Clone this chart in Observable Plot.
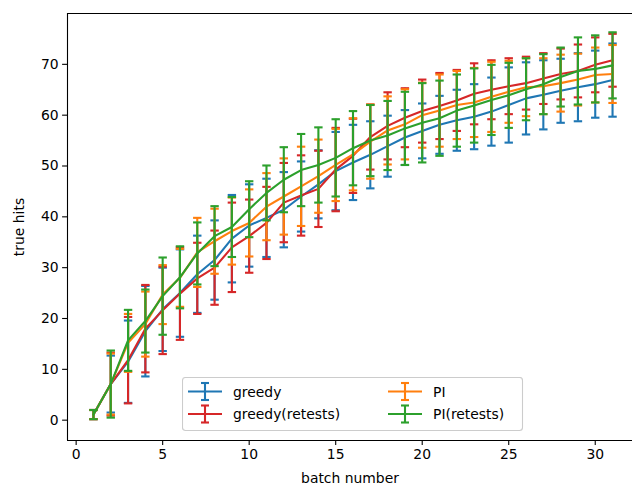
<!DOCTYPE html>
<html>
<head>
<meta charset="utf-8">
<script src="https://cdn.jsdelivr.net/npm/d3@7"></script>
<script src="https://cdn.jsdelivr.net/npm/@observablehq/plot@0.6"></script>
<style>
  html, body { margin: 0; padding: 0; background: #fff; }
  #wrap { position: relative; width: 632px; height: 485px; overflow: hidden; font-family: "DejaVu Sans", sans-serif; }
  #legend { position: absolute; left: 182px; top: 377px; }
</style>
</head>
<body>
<div id="wrap"><div id="chart"></div><div id="legend"></div></div>
<script>
const batches = d3.range(1, 32);
const seriesNames = ["greedy", "greedy(retests)", "PI", "PI(retests)"];
const seriesColors = ["#1f77b4", "#d62728", "#ff7f0e", "#2ca02c"];

const greedyMean = [1.1, 7.1, 11.5, 17.5, 21.8, 25.0, 28.7, 31.5, 35.7, 38.3, 39.8, 41.4, 44.0, 46.4, 49.0, 50.7, 52.2, 53.9, 55.6, 56.9, 58.1, 59.0, 59.7, 60.7, 62.0, 63.3, 64.0, 64.8, 65.5, 66.1, 66.9];
const greedyErr  = [0.9, 5.6, 8.1, 8.9, 8.2, 8.6, 7.6, 7.8, 8.6, 8.1, 7.7, 7.4, 6.9, 6.7, 7.7, 7.4, 6.6, 6.0, 5.4, 5.4, 5.7, 6.0, 6.4, 6.7, 7.4, 7.1, 6.8, 6.3, 6.7, 6.6, 7.2];

const greedyRetMean = [1.1, 7.1, 11.8, 18.0, 21.6, 24.9, 27.9, 30.0, 34.0, 36.2, 38.8, 42.8, 44.2, 45.5, 49.3, 52.0, 55.7, 57.9, 59.5, 60.8, 61.8, 62.9, 64.2, 65.0, 65.7, 66.3, 67.2, 68.1, 68.7, 69.9, 70.8];
const greedyRetErr  = [0.9, 6.2, 8.5, 8.6, 8.6, 9.1, 7.0, 7.3, 8.8, 7.2, 7.1, 7.8, 7.9, 7.5, 8.2, 7.3, 6.4, 6.6, 5.8, 6.2, 6.5, 6.0, 6.0, 5.8, 5.5, 5.2, 5.0, 5.0, 5.2, 5.4, 5.2];

const piMean = [1.1, 7.1, 15.2, 18.9, 24.7, 28.0, 33.0, 35.2, 37.2, 38.8, 42.0, 44.0, 46.0, 48.0, 50.2, 52.3, 54.8, 57.0, 58.2, 60.0, 60.9, 62.0, 62.5, 63.6, 64.6, 65.5, 65.7, 66.3, 67.0, 67.9, 68.1];
const piErr  = [0.9, 6.0, 5.7, 6.4, 5.8, 5.7, 6.8, 6.4, 6.6, 6.6, 6.6, 7.5, 7.8, 7.2, 7.1, 7.1, 7.3, 6.7, 6.9, 6.4, 7.1, 6.7, 6.8, 6.9, 6.1, 5.7, 5.5, 5.6, 5.1, 5.4, 5.7];

const piRetMean = [1.1, 7.1, 15.7, 19.5, 24.4, 28.1, 32.8, 36.2, 38.0, 41.5, 44.7, 47.3, 49.2, 50.2, 51.6, 53.5, 55.0, 56.0, 57.4, 58.5, 59.4, 60.9, 61.9, 63.0, 63.9, 65.1, 66.1, 67.5, 68.7, 69.1, 69.8];
const piRetErr  = [0.9, 6.6, 6.0, 6.2, 7.6, 6.1, 6.1, 5.9, 5.9, 5.5, 5.4, 6.4, 7.1, 7.4, 7.6, 7.3, 7.0, 6.8, 7.2, 7.8, 7.4, 7.1, 7.3, 6.9, 6.4, 6.1, 5.9, 5.8, 6.6, 6.6, 6.5];

const xTicks = [0, 5, 10, 15, 20, 25, 30];
const yTicks = [0, 10, 20, 30, 40, 50, 60, 70];

const means = [greedyMean, greedyRetMean, piMean, piRetMean];
const errs = [greedyErr, greedyRetErr, piErr, piRetErr];

const capSymbol = { draw(ctx) { ctx.moveTo(-4.2, 0); ctx.lineTo(4.2, 0); } };

const marks = [];
seriesNames.forEach((name, i) => {
  const rows = batches.map((b, j) => ({ x: b, m: means[i][j], lo: means[i][j] - errs[i][j], hi: means[i][j] + errs[i][j] }));
  const c = seriesColors[i];
  marks.push(Plot.line(rows, { x: "x", y: "m", stroke: c, strokeWidth: 2.1 }));
  marks.push(Plot.ruleX(rows, { x: "x", y1: "lo", y2: "hi", stroke: c, strokeWidth: 2.1 }));
  marks.push(Plot.dot(rows, { x: "x", y: "lo", symbol: capSymbol, r: 4, fill: "none", stroke: c, strokeWidth: 2.1 }));
  marks.push(Plot.dot(rows, { x: "x", y: "hi", symbol: capSymbol, r: 4, fill: "none", stroke: c, strokeWidth: 2.1 }));
});

const chart = Plot.plot({
  width: 632,
  height: 485,
  marginTop: 13,
  marginLeft: 67,
  marginRight: 0,
  marginBottom: 45,
  style: { fontFamily: "DejaVu Sans, sans-serif", fontSize: "13.9px", color: "black", background: "white", overflow: "hidden" },
  x: { domain: [-0.5, 32.5], range: [67, 638] },
  y: { domain: [-4, 80] },
  marks: [
    ...marks,
    Plot.ruleY([-4, 80], { x1: -0.5, x2: 32.5, stroke: "black", strokeWidth: 1.1 }),
    Plot.ruleX([-0.5], { y1: -4, y2: 80, stroke: "black", strokeWidth: 1.1 }),
    Plot.axisX({ ticks: xTicks, tickSize: 4.9, tickPadding: 4, fontSize: 13.9, label: "batch number", labelAnchor: "center", labelOffset: 42, labelArrow: "none", strokeWidth: 1.1 }),
    Plot.axisY({ ticks: yTicks, tickSize: 4.9, tickPadding: 4, fontSize: 13.9, label: "true hits", labelAnchor: "center", labelOffset: 53, labelArrow: "none", strokeWidth: 1.1 })
  ]
});
document.getElementById("chart").appendChild(chart);

// Legend
const lw = 340, lh = 53;
const lsvg = d3.select("#legend").append("svg").attr("width", lw + 2).attr("height", lh + 2)
  .style("font-family", "DejaVu Sans, sans-serif").style("font-size", "13.9px");
lsvg.append("rect").attr("x", 0.5).attr("y", 0.5).attr("width", lw).attr("height", lh)
  .attr("rx", 3).attr("fill", "rgba(255,255,255,0.8)").attr("stroke", "#cccccc").attr("stroke-width", 1.1);
const legendOrder = [0, 1, 2, 3];
legendOrder.forEach((i, k) => {
  const col = Math.floor(k / 2), row = k % 2;
  const hx = 6 + col * 200, cy = 14.5 + row * 22.5;
  const g = lsvg.append("g").attr("stroke", seriesColors[i]).attr("stroke-width", 2.1);
  g.append("line").attr("x1", hx).attr("x2", hx + 34).attr("y1", cy).attr("y2", cy);
  g.append("line").attr("x1", hx + 17).attr("x2", hx + 17).attr("y1", cy - 8.5).attr("y2", cy + 8.5);
  g.append("line").attr("x1", hx + 13).attr("x2", hx + 21).attr("y1", cy - 8.5).attr("y2", cy - 8.5);
  g.append("line").attr("x1", hx + 13).attr("x2", hx + 21).attr("y1", cy + 8.5).attr("y2", cy + 8.5);
  lsvg.append("text").attr("x", hx + 45).attr("y", cy + 5).attr("fill", "black").text(seriesNames[i]);
});
</script>
</body>
</html>
